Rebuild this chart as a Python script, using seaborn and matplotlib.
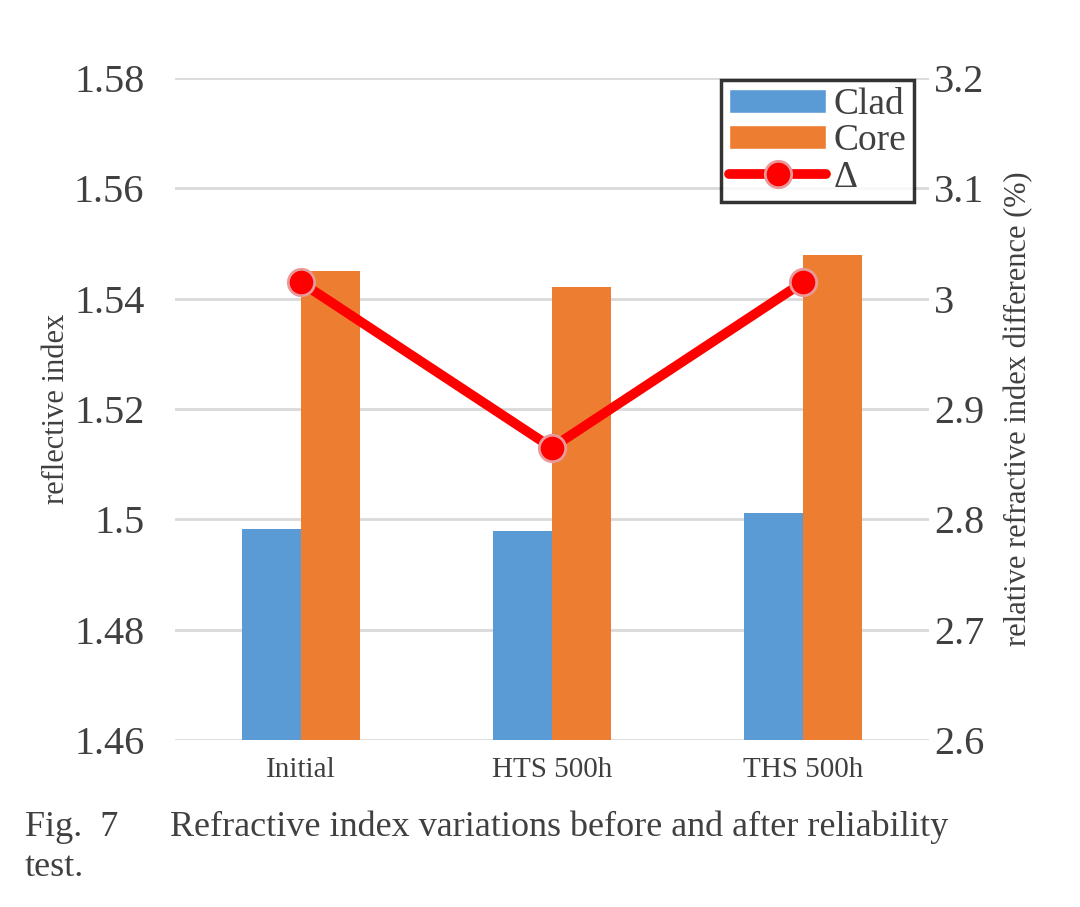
import pandas as pd
import seaborn as sns
import matplotlib.pyplot as plt
from matplotlib.lines import Line2D
from matplotlib.patches import Patch
from matplotlib.ticker import FuncFormatter

categories = ["Initial", "HTS 500h", "THS 500h"]
clad = [1.4982, 1.4979, 1.5011]
core = [1.5450, 1.5421, 1.5479]
delta = [3.015, 2.865, 3.015]

BLUE = "#5B9BD5"
ORANGE = "#ED7D31"
RED = "#FF0000"
TXT = "#404040"

sns.set_style("white")
plt.rcParams["font.family"] = ["Liberation Serif", "DejaVu Serif"]

df = pd.DataFrame({
    "cond": categories * 2,
    "val": clad + core,
    "kind": ["Clad"] * 3 + ["Core"] * 3,
})

fig = plt.figure(figsize=(10.8, 9.07), dpi=100)
ax = fig.add_axes([0.162, 0.184, 0.698, 0.730])

sns.barplot(data=df, x="cond", y="val", hue="kind", palette=[BLUE, ORANGE],
            width=0.47, gap=0, ax=ax, legend=False, saturation=1, linewidth=0)
ax.set_ylim(1.46, 1.58)
ax.set_xlim(-0.5, 2.5)
ax.set_yticks([1.46, 1.48, 1.50, 1.52, 1.54, 1.56, 1.58])
ax.yaxis.set_major_formatter(FuncFormatter(lambda v, p: f"{v:.2f}".rstrip("0")))
ax.grid(axis="y", color="#D9D9D9", linewidth=2)
ax.set_axisbelow(True)
for s in ax.spines.values():
    s.set_visible(False)
ax.tick_params(axis="y", labelsize=29, colors=TXT, length=0, pad=22)
ax.tick_params(axis="x", labelsize=21, colors=TXT, length=0, pad=12)
ax.set_xlabel("")
ax.set_ylabel("reflective index", fontsize=22, color=TXT, labelpad=2)

ax2 = ax.twinx()
sns.pointplot(x=categories, y=delta, color=RED, markers="o", linewidth=7,
              markersize=19, ax=ax2, markeredgecolor="#E89A9A",
              markeredgewidth=2)
ax2.set_ylim(2.6, 3.2)
ax2.set_xlim(-0.5, 2.5)
ax2.set_yticks([2.6, 2.7, 2.8, 2.9, 3.0, 3.1, 3.2])
ax2.yaxis.set_major_formatter(FuncFormatter(lambda v, p: f"{v:g}"))
for s in ax2.spines.values():
    s.set_visible(False)
ax2.tick_params(axis="y", labelsize=29, colors=TXT, length=0, pad=4)
ax2.set_ylabel("relative refractive index difference (%)", fontsize=22,
               color=TXT, labelpad=14)

handles = [
    Patch(facecolor=BLUE, label="Clad"),
    Patch(facecolor=ORANGE, label="Core"),
    Line2D([0], [0], color=RED, linewidth=7, marker="o", markersize=19,
           markeredgecolor="#E89A9A", markeredgewidth=2, label="Δ"),
]
leg = ax2.legend(handles=handles, loc="upper left",
                 bbox_to_anchor=(0.668, 0.912), bbox_transform=fig.transFigure,
                 fontsize=27, frameon=True, fancybox=False, handlelength=2.6,
                 handleheight=0.6, labelspacing=0.05, borderpad=0.2,
                 handletextpad=0.2, borderaxespad=0)
leg.get_frame().set_edgecolor("black")
leg.get_frame().set_linewidth(2.5)
for t in leg.get_texts():
    t.set_color(TXT)

fig.text(0.023, 0.088, "Fig.  7", fontsize=26, color=TXT, va="center")
fig.text(0.157, 0.088, "Refractive index variations before and after reliability",
         fontsize=26, color=TXT, va="center")
fig.text(0.023, 0.044, "test.", fontsize=26, color=TXT, va="center")

fig.savefig("out.png", dpi=100, facecolor="white")
